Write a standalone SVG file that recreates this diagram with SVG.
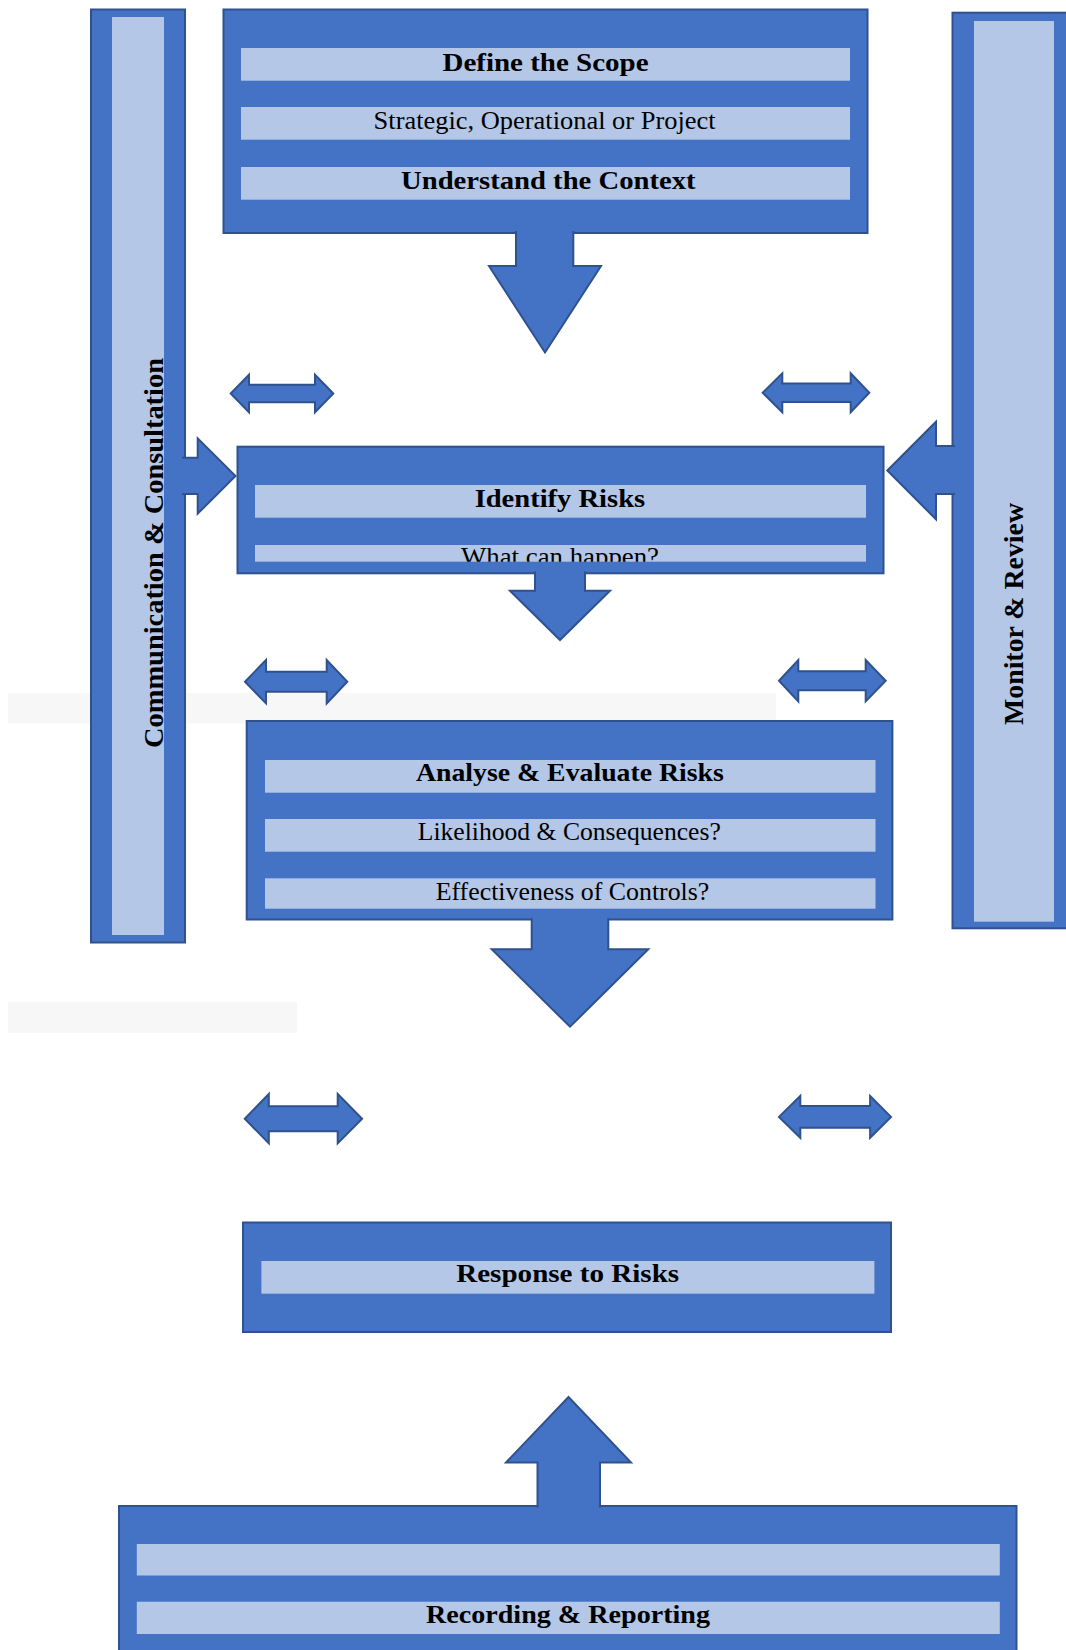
<svg xmlns="http://www.w3.org/2000/svg" width="1066" height="1650" viewBox="0 0 1066 1650">
<defs>
<style>
.box{fill:#4472C4;stroke:#2F528F;stroke-width:2}
.bar{fill:#B4C7E7}
.arr{fill:#4472C4;stroke:#2F528F;stroke-width:2;stroke-linejoin:miter}
.gray{fill:#F7F7F7}
.t{font-family:"Liberation Serif","Times New Roman",serif;font-size:26px;fill:#000;text-anchor:middle}
.b{font-weight:bold}
.v{font-size:28px}
</style>
<clipPath id="clipWhat"><rect x="255" y="545" width="611" height="16.7"/></clipPath>
</defs>
<rect width="1066" height="1650" fill="#FFFFFF"/>
<rect class="gray" x="8" y="693" width="768" height="30.5"/>
<rect class="gray" x="8" y="1002" width="289" height="31"/>

<g id="communication">
<rect class="box" x="91" y="9.5" width="94" height="933"/>
<rect class="bar" x="112" y="17" width="52" height="918"/>
<text class="t b v" transform="translate(163.3,553) rotate(-90)" textLength="390" lengthAdjust="spacingAndGlyphs">Communication &amp; Consultation</text>
</g>

<g id="monitor">
<rect class="box" x="952.5" y="12.7" width="125" height="915.6"/>
<rect class="bar" x="974" y="21" width="80" height="900.7"/>
<text class="t b v" transform="translate(1023.3,614) rotate(-90)" textLength="222" lengthAdjust="spacingAndGlyphs">Monitor &amp; Review</text>
</g>

<g id="scope">
<rect class="box" x="223.5" y="9.5" width="644" height="223.5"/>
<rect class="bar" x="241" y="48" width="609" height="32.7"/>
<rect class="bar" x="241" y="107" width="609" height="32.7"/>
<rect class="bar" x="241" y="167" width="609" height="32.7"/>
<text class="t b" x="545.5" y="70.7" textLength="206" lengthAdjust="spacingAndGlyphs">Define the Scope</text>
<text class="t" x="544.6" y="129.3" textLength="342" lengthAdjust="spacingAndGlyphs">Strategic, Operational or Project</text>
<text class="t b" x="548.3" y="189.3" textLength="294.6" lengthAdjust="spacingAndGlyphs">Understand the Context</text>
</g>

<g id="identify">
<rect class="box" x="237.5" y="446.7" width="646" height="126.6"/>
<rect class="bar" x="255" y="485" width="611" height="32.7"/>
<rect class="bar" x="255" y="545" width="611" height="16.7"/>
<text class="t b" x="559.9" y="506.7" textLength="170.5" lengthAdjust="spacingAndGlyphs">Identify Risks</text>
<text class="t" x="560" y="565" textLength="198" lengthAdjust="spacingAndGlyphs" clip-path="url(#clipWhat)">What can happen?</text>
</g>

<g id="analyse">
<rect class="box" x="246.7" y="721" width="645.7" height="198.5"/>
<rect class="bar" x="265" y="760" width="610.5" height="32.7"/>
<rect class="bar" x="265" y="819" width="610.5" height="32.7"/>
<rect class="bar" x="265" y="878.3" width="610.5" height="30.4"/>
<text class="t b" x="569.9" y="781" textLength="308" lengthAdjust="spacingAndGlyphs">Analyse &amp; Evaluate Risks</text>
<text class="t" x="569.3" y="840" textLength="303" lengthAdjust="spacingAndGlyphs">Likelihood &amp; Consequences?</text>
<text class="t" x="572.5" y="900" textLength="273.6" lengthAdjust="spacingAndGlyphs">Effectiveness of Controls?</text>
</g>

<g id="response">
<rect class="box" x="243" y="1222.5" width="648" height="109.5"/>
<rect class="bar" x="261.4" y="1261" width="613" height="32.7"/>
<text class="t b" x="567.7" y="1281.7" textLength="223" lengthAdjust="spacingAndGlyphs">Response to Risks</text>
</g>

<g id="recording">
<rect class="box" x="119" y="1506" width="897.5" height="160"/>
<rect class="bar" x="136.8" y="1544" width="863" height="31.5"/>
<rect class="bar" x="136.8" y="1601.7" width="863" height="32.3"/>
<text class="t b" x="568" y="1623.3" textLength="284" lengthAdjust="spacingAndGlyphs">Recording &amp; Reporting</text>
</g>

<g id="connectors">
<path class="arr" d="M516,231 V266 H489 L545,352.5 L601,266 H573.3 V231"/>
<path class="arr" d="M535,571.5 V590.7 H510 L560,640 L610,590.7 H585 V571.5"/>
<path class="arr" d="M531.7,918 V949.3 H491.7 L570,1026.7 L648.3,949.3 H608.3 V918"/>
<path class="arr" d="M537.5,1507.5 V1462.5 H506 L568.5,1397 L631,1462.5 H600 V1507.5"/>
<path class="arr" d="M182,457.7 H197.7 V438.3 L235.5,476 L197.7,513.7 V494 H182"/>
<path class="arr" d="M955,446 H936 V421.7 L887.3,470.5 L936,519.3 V494 H955"/>
<path class="arr" d="M230.7,393.5 L249,374.8 V384.8 H315 V374.8 L333.3,393.5 L315,412.2 V402.2 H249 V412.2 Z"/>
<path class="arr" d="M762.7,392.8 L782.3,373.3 V383.6 H850.7 V373.3 L869.3,392.8 L850.7,412.3 V402 H782.3 V412.3 Z"/>
<path class="arr" d="M245,681.7 L266,660 V671.7 H326.7 V660 L347.3,681.7 L326.7,703.4 V691.7 H266 V703.4 Z"/>
<path class="arr" d="M779,680.7 L798.3,660 V671.2 H865.7 V660 L885.7,680.7 L865.7,701.4 V690.2 H798.3 V701.4 Z"/>
<path class="arr" d="M244.8,1118.7 L268.8,1094 V1106.2 H337.7 V1094 L362.1,1118.7 L337.7,1143.4 V1131.2 H268.8 V1143.4 Z"/>
<path class="arr" d="M779,1116.9 L800.3,1096 V1106 H870.1 V1096 L891,1116.9 L870.1,1137.8 V1127.8 H800.3 V1137.8 Z"/>
</g>
</svg>
